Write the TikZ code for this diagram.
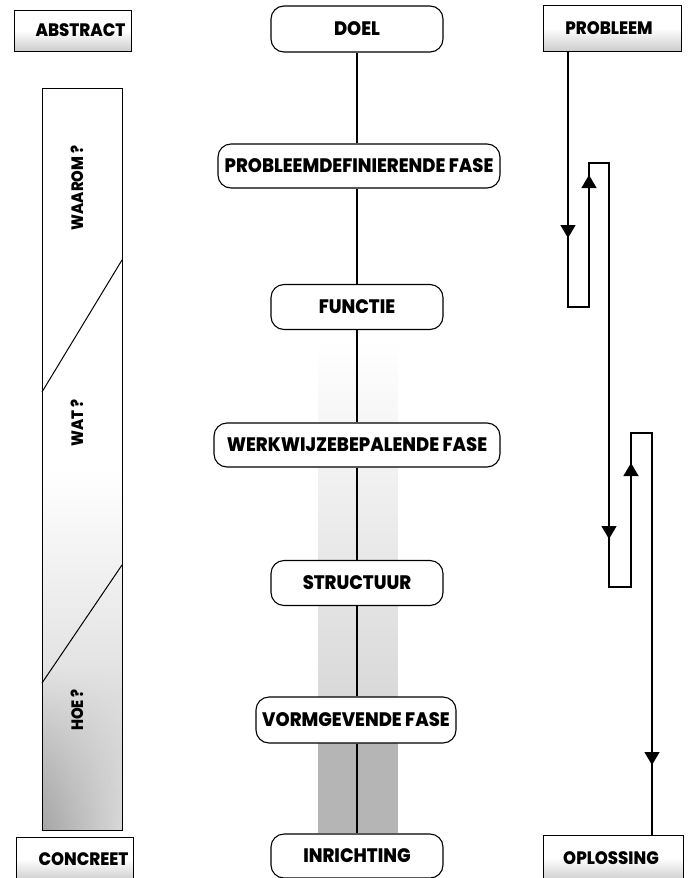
\documentclass[tikz,border=0pt]{standalone}
\usepackage{fontspec}
\newfontfamily\lbl{Poppins ExtraBold}[FakeStretch=0.92]
\newfontfamily\lblN{Poppins ExtraBold}[FakeStretch=0.9]
\usetikzlibrary{arrows.meta,fadings}
\tikzfading[name=fadeup, top color=transparent!100, bottom color=transparent!0]
\begin{document}
\begin{tikzpicture}[x=1pt,y=-1pt,
  phase/.style={draw, line width=1.1pt, rounded corners=13pt, fill=white, inner sep=0pt, font=\lbl\fontsize{19.5}{21}\selectfont, text=black},
  tag/.style={draw, line width=0.7pt, inner sep=0pt, font=\lbl\fontsize{18}{20}\selectfont, shade, top color=white, bottom color=gray!40, middle color=white},
  side/.style={font=\lblN\fontsize{16.5}{18}\selectfont, rotate=90},
  flow/.style={line width=1.3pt},
  tip/.style={-{Triangle[length=13pt,width=15pt]}}
]
\useasboundingbox (0,0) rectangle (689,878);

% stippled column behind the centre line
\fill[gray!30, path fading=fadeup] (318,340) rectangle (398,697);
\fill[gray!58] (318,740) rectangle (398,833);

% left bar
\fill[gray!40, path fading=fadeup] (42,470) rectangle (122,830);
\shade[left color=gray!70, right color=gray!30, path fading=fadeup] (42,670) rectangle (122,830);
\draw[line width=1pt] (42,88) rectangle (122,830);
\draw[line width=1pt] (122,260) -- (42,392);
\draw[line width=1pt] (122,565) -- (42,683);
\node[side] (waarom) at (77,188) {WAAROM ?};
\node[side] (wat) at (77,423) {WAT ?};
\node[side] (hoe) at (77,710) {HOE ?};

% corner labels
\node[tag, minimum width=117pt, minimum height=41pt] (abstract) at (72.5,30.5) {\hspace*{16pt}ABSTRACT};
\node[tag, minimum width=138pt, minimum height=46pt] (probleem) at (612,28) {PROBLEEM\hspace*{6pt}};
\node[tag, minimum width=117pt, minimum height=44pt] (concreet) at (74.5,859) {\hspace*{18pt}CONCREET};
\node[tag, minimum width=140pt, minimum height=46pt] (oplossing) at (613,858) {OPLOSSING\hspace*{4pt}};

% centre phases
\node[phase, minimum width=172pt, minimum height=46pt] (doel) at (357,29) {DOEL};
\node[phase, minimum width=282pt, minimum height=44pt] (pdf) at (359,166) {PROBLEEMDEFINIERENDE FASE};
\node[phase, minimum width=172pt, minimum height=45pt] (functie) at (357,307) {FUNCTIE};
\node[phase, minimum width=286pt, minimum height=44pt] (wbf) at (357,445) {WERKWIJZEBEPALENDE FASE};
\node[phase, minimum width=172pt, minimum height=45pt] (structuur) at (357,583) {STRUCTUUR};
\node[phase, minimum width=200pt, minimum height=46pt] (vgf) at (356,720) {VORMGEVENDE FASE};
\node[phase, minimum width=172pt, minimum height=44pt] (inrichting) at (357,856) {INRICHTING};

\draw[flow] (doel.south -| 357,0) -- (pdf.north -| 357,0);
\draw[flow] (pdf.south -| 357,0) -- (functie.north -| 357,0);
\draw[flow] (functie) -- (wbf);
\draw[flow] (wbf) -- (structuur);
\draw[flow] (structuur) -- (vgf.north -| 357,0);
\draw[flow] (vgf.south -| 357,0) -- (inrichting);

% right zigzag path
\coordinate (r0) at (probleem.south -| 568,0);
\coordinate (r1) at (568,307);
\coordinate (r2) at (589,307);
\coordinate (r3) at (589,163);
\coordinate (r4) at (609,163);
\coordinate (r5) at (609,587);
\coordinate (r6) at (631,587);
\coordinate (r7) at (631,433);
\coordinate (r8) at (652,433);
\coordinate (r9) at (oplossing.north -| 652,0);
\draw[flow, line join=miter] (r0) -- (r1) -- (r2) -- (r3) -- (r4) -- (r5) -- (r6) -- (r7) -- (r8) -- (r9);
\coordinate (a1) at (568,238);
\coordinate (a2) at (589,175);
\coordinate (a3) at (609,539);
\coordinate (a4) at (631,463);
\coordinate (a5) at (652,765);
\draw[flow,tip] (r0) -- (a1);
\draw[flow,tip] (r2) -- (a2);
\draw[flow,tip] (r4) -- (a3);
\draw[flow,tip] (r6) -- (a4);
\draw[flow,tip] (r8) -- (a5);
\end{tikzpicture}
\end{document}
